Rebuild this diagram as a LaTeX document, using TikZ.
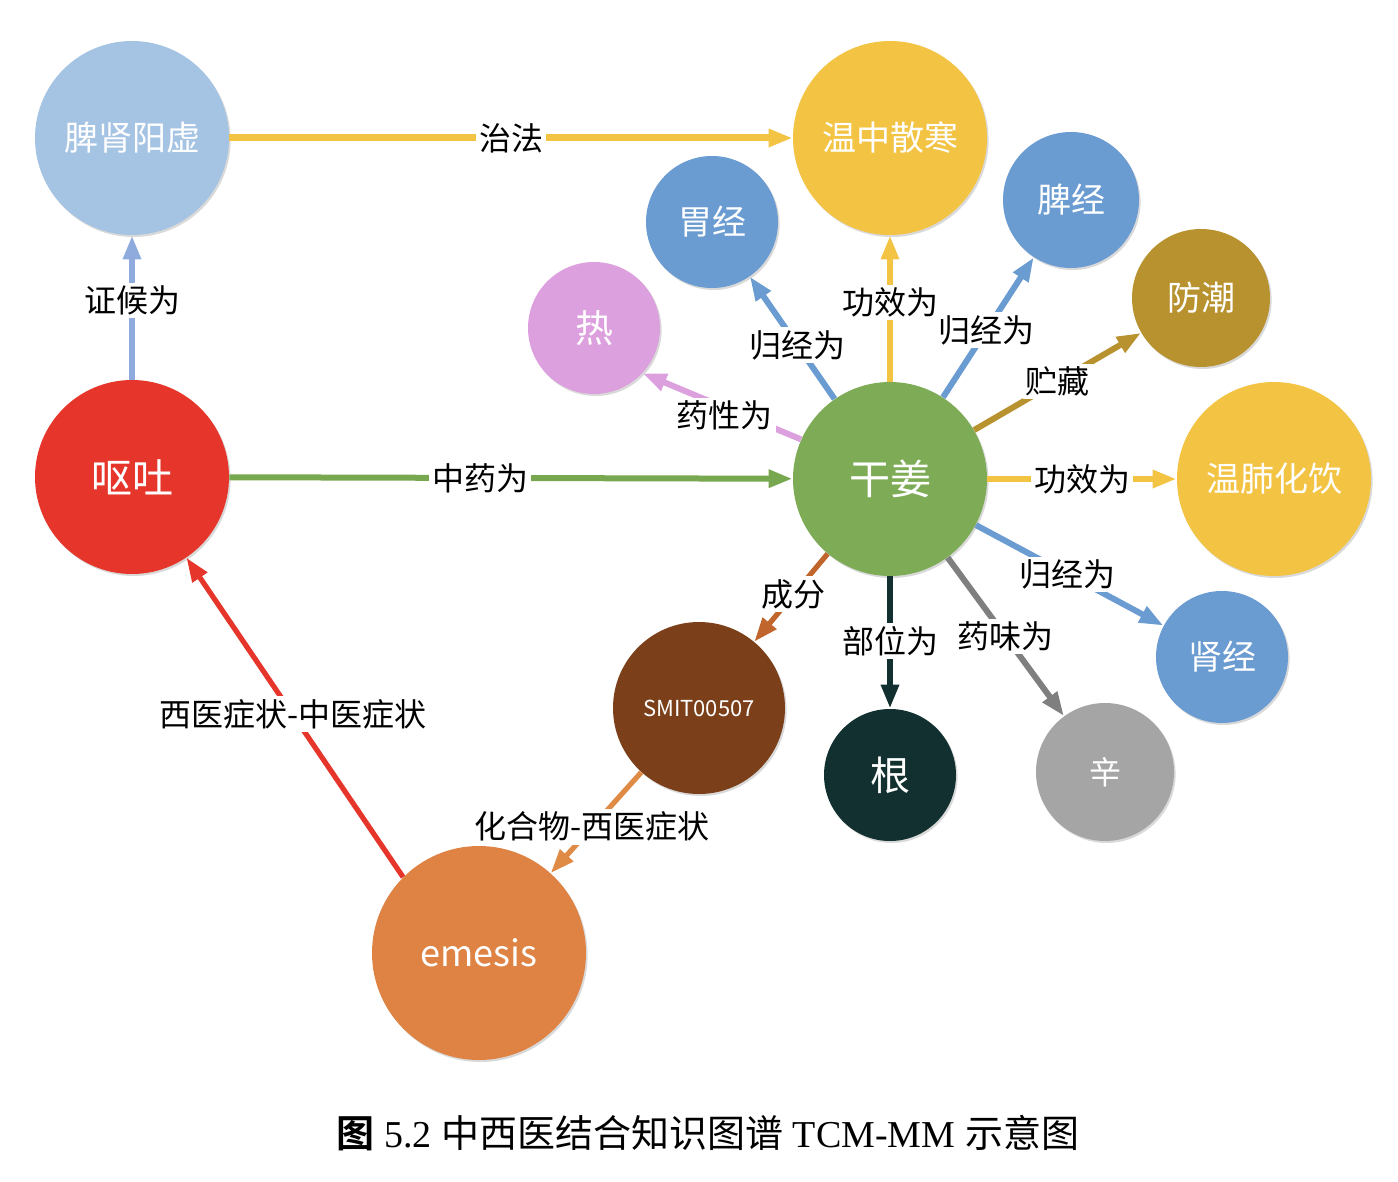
\documentclass[tikz,border=0pt]{standalone}
\usepackage{fontspec}
\setmainfont{Liberation Serif}
\newfontfamily\cjk{Noto Sans CJK SC}
\newfontfamily\cjkbold{Noto Sans CJK SC Bold}
\usetikzlibrary{arrows.meta,shadows}
\definecolor{cLB}{HTML}{A5C3E3}
\definecolor{cY}{HTML}{F3C343}
\definecolor{cB}{HTML}{6A9BD1}
\definecolor{cGold}{HTML}{B8922F}
\definecolor{cPink}{HTML}{DDA0DE}
\definecolor{cRed}{HTML}{E6352A}
\definecolor{cGreen}{HTML}{7EAB55}
\definecolor{cBrown}{HTML}{7B401A}
\definecolor{cDark}{HTML}{12302F}
\definecolor{cGray}{HTML}{A5A5A5}
\definecolor{cOrange}{HTML}{DE8343}
\definecolor{eLav}{HTML}{8FAADC}
\definecolor{eGreen}{HTML}{77A84F}
\definecolor{eOrange}{HTML}{E08B45}
\definecolor{eRust}{HTML}{C0652C}
\definecolor{eGray}{HTML}{7F7F7F}
\tikzset{
  ent/.style={circle, minimum size=#1, inner sep=0pt, text=white,
    font=\cjk\fontsize{17}{20}\selectfont,
    drop shadow={shadow xshift=0.8pt, shadow yshift=-1pt, opacity=0.15, fill=black}},
  rel/.style={line width=3pt, -{Triangle[length=12pt,width=8.5pt]}},
  lab/.style={fill=white, text=black, inner sep=1.5pt,
    font=\cjk\fontsize{16}{18}\selectfont},
}
\begin{document}
\begin{tikzpicture}[x=0.5pt,y=-0.5pt]
\useasboundingbox (0,0) rectangle (1398,1182);
% nodes
\node[ent=97pt, fill=cLB] (psyx) at (132,138) {脾肾阳虚};
\node[ent=97pt, fill=cY] (wzsh) at (890,138) {温中散寒};
\node[ent=66pt, fill=cB] (wj) at (712,222) {胃经};
\node[ent=68pt, fill=cB] (pj) at (1071,200) {脾经};
\node[ent=69pt, fill=cGold] (fc) at (1201,298) {防潮};
\node[ent=66pt, fill=cPink, font=\cjk\fontsize{19}{22}\selectfont] (re) at (594,328) {热};
\node[ent=97pt, fill=cRed, font=\cjk\fontsize{20.5}{24}\selectfont] (ot) at (132,477) {呕吐};
\node[ent=97pt, fill=cGreen, font=\cjk\fontsize{20.5}{24}\selectfont] (gj) at (890,479) {干姜};
\node[ent=97pt, fill=cY] (wfhy) at (1274,479) {温肺化饮};
\node[ent=66pt, fill=cB] (sj) at (1222,657) {肾经};
\node[ent=86pt, fill=cBrown, font=\cjk\fontsize{11}{13}\selectfont] (smit) at (699,708) {SMIT00507};
\node[ent=66pt, fill=cDark, font=\cjk\fontsize{20}{24}\selectfont] (gen) at (890,775) {根};
\node[ent=69pt, fill=cGray, font=\cjk\fontsize{16}{19}\selectfont] (xin) at (1105,772) {辛};
\node[ent=107pt, fill=cOrange, font=\cjk\fontsize{18}{22}\selectfont] (em) at (479,953) {emesis};
% edges
\draw[rel, cY, line width=3.5pt] (psyx) -- node[lab, pos=0.5] {治法} (wzsh);
\draw[rel, eLav] (ot) -- node[lab, pos=0.55] {证候为} (psyx);
\draw[rel, eGreen] (ot) -- node[lab, pos=0.445] {中药为} (gj);
\draw[rel, cRed, line width=2.6pt] (em.135) -- node[lab, pos=0.51] {西医症状-中医症状} (ot.-56);
\draw[rel, eOrange, line width=2.6pt] (smit) -- node[lab, pos=0.54] {化合物-西医症状} (em);
\draw[rel, eRust, line width=2.6pt] (gj) -- node[lab, pos=0.46] {成分} (smit);
\draw[rel, cDark] (gj) -- node[lab, pos=0.49] {部位为} (gen);
\draw[rel, eGray] (gj) -- node[lab, pos=0.5] {药味为} (xin);
\draw[rel, cB] (gj) -- node[lab, pos=0.49] {归经为} (sj);
\draw[rel, cY] (gj) -- node[lab, pos=0.5] {功效为} (wfhy);
\draw[rel, cGold] (gj) -- node[lab, pos=0.5] {贮藏} (fc);
\draw[rel, cY] (gj) -- node[lab, pos=0.54] {功效为} (wzsh);
\draw[rel, cB] (gj) -- node[lab, pos=0.48] {归经为} (pj);
\draw[rel, cB] (gj) -- node[lab, pos=0.44] {归经为} (wj);
\draw[rel, cPink] (gj.156) -- node[lab, pos=0.48, yshift=-4pt] {药性为} (re.-43);
% caption
\node (cap) at (708,1133) {\fontsize{19}{22}\selectfont{\cjkbold 图} 5.2 {\cjk 中西医结合知识图谱} TCM-MM {\cjk 示意图}};
\end{tikzpicture}
\end{document}
